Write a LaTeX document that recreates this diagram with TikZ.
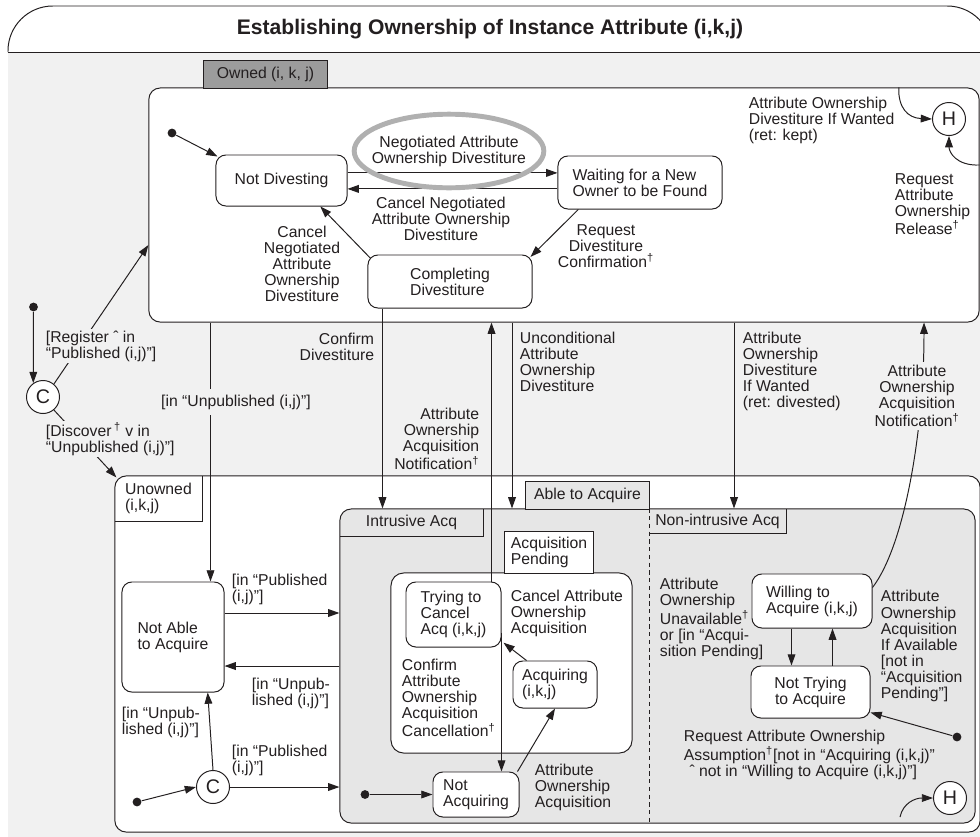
\documentclass[tikz,border=0pt]{standalone}
\usepackage{fontspec}
\setmainfont{Liberation Sans}
\usetikzlibrary{arrows.meta}
\definecolor{bggray}{HTML}{F1F1F1}
\definecolor{acqgray}{HTML}{E6E6E6}
\definecolor{tabgray}{HTML}{9C9C9C}
\definecolor{ringgray}{HTML}{B0B0B0}
\definecolor{ink}{HTML}{231F20}
\begin{document}
\begin{tikzpicture}[x=0.025cm,y=-0.025cm,line width=0.7pt,color=ink,
  font=\fontsize{11.2}{11.4}\selectfont,
  >={Triangle[length=8pt,width=5.5pt]},
  sbox/.style={draw,fill=white,rounded corners=7pt,align=left,inner sep=2pt},
  region/.style={draw,rounded corners=8pt},
  tabbox/.style={align=left,anchor=north west,inner sep=0pt},
  lbl/.style={align=left,inner sep=1pt},
  pstate/.style={circle,draw,fill=white,minimum size=0.825cm,inner sep=0pt,font=\fontsize{14}{16}\selectfont},
  initdot/.style={circle,fill=ink,minimum size=0.22cm,inner sep=0pt}]
\useasboundingbox (0,0) rectangle (980,836);
\clip (0,0) rectangle (980,836);
\fill[bggray] (8,52) rectangle (990,840);
\draw[fill=white,rounded corners=1.12cm] (8,52) -- (8,6) -- (992,6) -- (992,52);
\draw (8,52) -- (992,52);
\node[font=\fontsize{15}{18}\selectfont\bfseries] (title) at (490,29) {Establishing Ownership of Instance Attribute (i,k,j)};

\node[region,fill=white,minimum width=20.75cm,minimum height=5.85cm] (owned) at (564,205) {};
\node[tabbox,draw,fill=tabgray,align=center,minimum width=3.1cm,minimum height=0.7cm] (ownedtab) at (203,60) {Owned (i, k, j)};

\node[region,fill=white,minimum width=21.625cm,minimum height=8.9cm] (unowned) at (547.5,654) {};
\node[tabbox,minimum width=2.15cm,minimum height=1.1cm] (unownedtab) at (115,476) {Unowned\\(i,k,j)};
\draw (unownedtab.north east) |- (unownedtab.south west);

\node[region,fill=acqgray,minimum width=15.875cm,minimum height=7.85cm] (able) at (657.5,666) {};
\node[tabbox,draw,fill=acqgray,align=center,minimum width=3.1cm,minimum height=0.7cm] (abletab) at (525,481) {Able to Acquire};
\node[tabbox,align=center,minimum width=3.55cm,minimum height=0.65cm] (intab) at (340,509) {Intrusive Acq};
\draw (intab.north east) |- (intab.south west);
\coordinate (xdash) at (649,0);
\draw[dash pattern=on 3pt off 2.5pt] (able.north -| xdash) -- (able.south -| xdash);
\node[tabbox,align=center,minimum width=3.4cm,minimum height=0.575cm] (nitab) at (649,509) {Non-intrusive Acq};
\draw (nitab.north east) |- (nitab.south west);

\node[region,fill=white,rounded corners=9pt,minimum width=6.025cm,minimum height=4.5cm] (pending) at (511.5,663) {};
\node[tabbox,draw,fill=white,minimum width=2.225cm,minimum height=1.05cm] (pendingtab) at (504,531) {Acquisition\\Pending};

\node[sbox,align=center,minimum width=3.275cm,minimum height=1.275cm] (notdiv) at (281.5,180.5) {Not Divesting};
\node[sbox,minimum width=4.1cm,minimum height=1.325cm] (waiting) at (640,182.5) {Waiting for a New\\Owner to be Found};
\node[sbox,minimum width=4.1cm,minimum height=1.325cm] (completing) at (450,281.5) {Completing\\Divestiture};
\node[sbox,minimum width=2.55cm,minimum height=2.75cm] (notable) at (173,637) {Not Able\\to Acquire};
\node[sbox,minimum width=2.375cm,minimum height=1.625cm] (trying) at (453.5,614.5) {Trying to\\Cancel\\Acq (i,k,j)};
\node[sbox,minimum width=2.1cm,minimum height=1.175cm] (acquiring) at (555,684.5) {Acquiring\\(i,k,j)};
\node[sbox,minimum width=2.15cm,minimum height=1.125cm] (notacq) at (476,794.5) {Not\\Acquiring};
\node[sbox,minimum width=3cm,minimum height=1.35cm] (willing) at (812,601) {Willing to\\Acquire (i,k,j)};
\node[sbox,align=center,minimum width=2.975cm,minimum height=1.3cm] (nottrying) at (810.5,692) {Not Trying\\to Acquire};

\node[pstate] (c1) at (43,397) {C};
\node[pstate] (c2) at (213,787) {C};
\node[pstate] (h1) at (949,119) {H};
\node[pstate] (h2) at (950,798) {H};
\node[initdot] (dot1) at (33.5,307) {};
\node[initdot] (dot2) at (172,133) {};
\node[initdot] (dot3) at (137,802) {};
\node[initdot] (dot4) at (365,794.5) {};
\node[initdot] (dot5) at (957,737) {};

\draw[->] (dot2) -- ([shift={(0.05cm,-0.05cm)}]notdiv.north west);
\coordinate (nd1) at ([yshift=0.19cm]notdiv.east);
\coordinate (nd2) at ([yshift=-0.21cm]notdiv.east);
\draw[->] (nd1) -- (nd1 -| waiting.west);
\draw[->] (nd2 -| waiting.west) -- (nd2);
\node[align=center,inner sep=1pt] (nego) at (449,151) {Negotiated Attribute\\Ownership Divestiture};
\draw[ringgray,line width=3.5pt] (nego) ellipse [x radius=2.37cm,y radius=0.92cm];
\node[align=center,inner sep=1pt] (cancelneg) at (441,219) {Cancel Negotiated\\Attribute Ownership\\Divestiture};
\draw[->] ([shift={(0.08cm,-0.1cm)}]completing.north west) -- ([xshift=-0.68cm]notdiv.south east);
\node[align=center,inner sep=1pt] (cancelneg2) at (302,264) {Cancel\\Negotiated\\Attribute\\Ownership\\Divestiture};
\draw[->] ([xshift=0.52cm]waiting.south west) -- ([shift={(-0.05cm,-0.06cm)}]completing.north east);
\node[align=center,inner sep=1pt] (reqconf) at (606,246) {Request\\Divestiture\\Confirmation\textsuperscript{†}};

\draw[->] ([xshift=-2.02cm]owned.north east) .. controls (898,108) and (908,118) .. (h1.west);
\draw[->] ([yshift=1cm]owned.east) .. controls (956,166) and (949,152) .. (h1.south);
\node[lbl,anchor=west] (wantkept) at (747,120) {Attribute Ownership\\Divestiture If Wanted\\(ret: kept)};
\node[lbl,anchor=west] (release) at (893,204) {Request\\Attribute\\Ownership\\Release\textsuperscript{†}};

\draw[->] (dot1) -- (c1.125);
\draw[->] (c1.50) -- ([yshift=-1cm]owned.west);
\node[lbl,anchor=west,fill=bggray] (register) at (44,346) {[Register ˆ in\\“Published (i,j)”]};
\draw[->] (c1.-50) -- ([shift={(0.05cm,-0.05cm)}]unowned.north west);
\node[lbl,anchor=west,fill=bggray] (discover) at (44,439) {[Discover\,\textsuperscript{†} v in\\“Unpublished (i,j)”]};
\coordinate (nab) at ([xshift=-0.35cm]notable.north east);
\draw[->] (nab |- owned.south) -- (nab);
\node[fill=bggray,inner xsep=1pt,inner ysep=4pt] (unpub0) at (236,402) {[in “Unpublished (i,j)”]};

\coordinate (np) at ([yshift=0.6cm]notable.east);
\coordinate (nu) at ([yshift=-0.725cm]notable.east);
\draw[->] (np) -- (np -| able.west);
\draw[->] (nu -| able.west) -- (nu);
\node[lbl,anchor=west] (pub1) at (230,589) {[in “Published\\(i,j)”]};
\node[lbl,anchor=west] (unpub1) at (250,693) {[in “Unpub-\\lished (i,j)”]};
\draw[->] (dot3) -- (c2.west);
\draw[->] (c2.north) -- ([xshift=-0.42cm]notable.south east);
\draw[->] (c2.east) -- (c2.east -| able.west);
\node[lbl,anchor=west] (unpub2) at (120,722) {[in “Unpub-\\lished (i,j)”]};
\node[lbl,anchor=west] (pub2) at (230,760) {[in “Published\\(i,j)”]};

\draw[->] (dot4) -- (dot4 -| notacq.west);
\draw[->] ([xshift=-0.05cm]notacq.north east) -- (acquiring.south);
\node[lbl,anchor=west] (acqlbl) at (533,787) {Attribute\\Ownership\\Acquisition};
\draw[->] ([xshift=0.35cm]acquiring.north west) -- ([shift={(0.05cm,0.12cm)}]trying.south east);
\node[lbl,anchor=west] (cancelacq) at (509,613) {Cancel Attribute\\Ownership\\Acquisition};
\coordinate (tc) at ([yshift=-0.46cm]trying.east);
\draw[->] (tc) -- (tc |- notacq.north);
\node[lbl,anchor=west] (confcancel) at (400,698) {Confirm\\Attribute\\Ownership\\Acquisition\\Cancellation\textsuperscript{†}};
\coordinate (tn) at ([xshift=-0.25cm]trying.north east);
\draw[->] (tn) -- (tn |- owned.south);
\node[lbl,anchor=east,align=right] (notif1) at (481,439) {Attribute\\Ownership\\Acquisition\\Notification\textsuperscript{†}};
\coordinate (cd) at ([xshift=0.375cm]completing.south west);
\draw[->] (cd) -- (cd |- able.north);
\node[lbl,anchor=east,align=right] (confdiv) at (376,347) {Confirm\\Divestiture};
\coordinate (xunc) at (512,0);
\coordinate (xwant) at (734,0);
\coordinate (xacqn) at (924,0);
\draw[->] (owned.south -| xunc) -- (able.north -| xunc);
\node[lbl,anchor=west] (uncond) at (518,362) {Unconditional\\Attribute\\Ownership\\Divestiture};
\draw[->] (owned.south -| xwant) -- (able.north -| xwant);
\node[lbl,anchor=west] (wantdiv) at (741,371) {Attribute\\Ownership\\Divestiture\\If Wanted\\(ret: divested)};
\draw[->] ([yshift=-0.35cm]willing.north east) .. controls (905,545) and (924,430) .. (owned.south -| xacqn);
\node[fill=bggray,align=center,inner sep=2pt] (notif2) at (917,396) {Attribute\\Ownership\\Acquisition\\Notification\textsuperscript{†}};

\coordinate (wd) at ([xshift=1cm]willing.south west);
\coordinate (nw) at ([xshift=2.05cm]nottrying.north west);
\draw[->] (wd) -- (wd |- nottrying.north);
\draw[->] (nw) -- (nw |- willing.south);
\node[lbl,anchor=west] (unavail) at (658,619) {Attribute\\Ownership\\Unavailable\textsuperscript{†}\\or [in “Acqui-\\sition Pending]};
\node[lbl,anchor=west] (ifavail) at (879,646) {Attribute\\Ownership\\Acquisition\\If Available\\{}[not in\\“Acquisition\\Pending”]};
\draw[->] (dot5) -- ([yshift=0.15cm]nottrying.south east);
\node[lbl,anchor=west] (assume) at (682,755) {Request Attribute Ownership\\Assumption\textsuperscript{†}[not in “Acquiring (i,k,j)”\\\hspace*{4pt}ˆ not in “Willing to Acquire (i,k,j)”]};
\coordinate (hin2) at (900,817);
\draw[->] (hin2) .. controls (903,803) and (915,798) .. (h2.west);
\end{tikzpicture}
\end{document}
